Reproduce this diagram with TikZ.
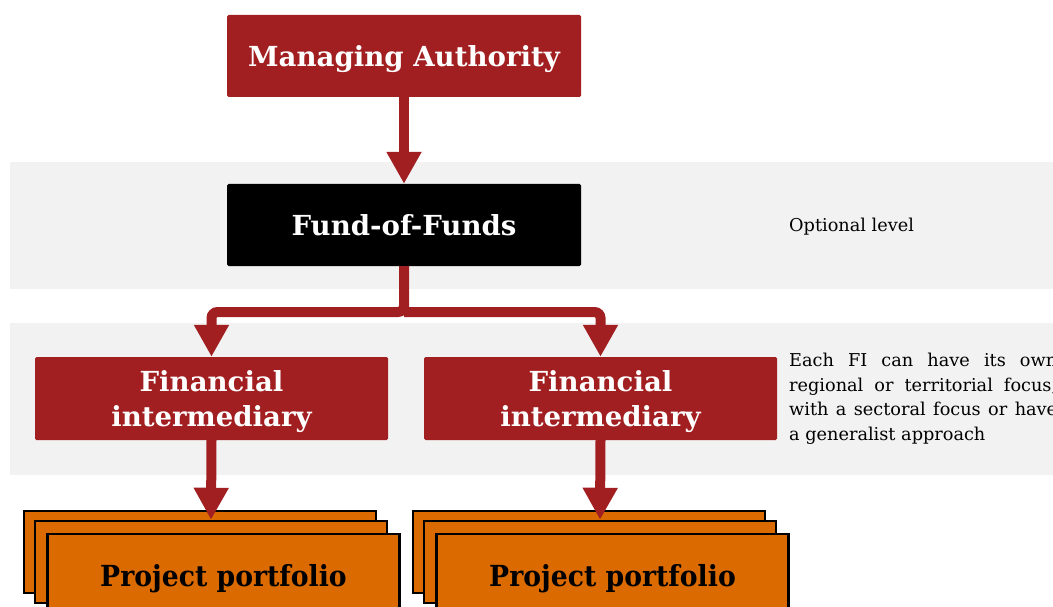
\documentclass[tikz,border=0pt]{standalone}
\usepackage{fontspec}
\setmainfont{DejaVu Serif}
\newfontfamily\narrowserif[FakeStretch=0.92]{DejaVu Serif}
\usetikzlibrary{arrows.meta}

\definecolor{darkred}{HTML}{A21F21}
\definecolor{pumpkin}{HTML}{DB6A00}
\definecolor{lightband}{HTML}{F2F2F2}

\begin{document}
\begin{tikzpicture}[x=1pt, y=-1pt]
    \tikzstyle{red box}=[
        fill = darkred,
        text = white,
        rounded corners = 1.5pt,
        minimum width = 354pt,
        minimum height = 82pt,
        inner sep = 0pt,
        align = center,
        text depth = 0pt,
        font = \fontsize{27.6}{35}\selectfont\bfseries
    ]
    \tikzstyle{black box}=[
        red box,
        fill = black
    ]
    \tikzstyle{project box}=[
        draw = black,
        line width = 2.5pt,
        fill = pumpkin,
        minimum width = 352pt,
        minimum height = 82pt,
        inner sep = 0pt,
        text depth = 0pt,
        font = \narrowserif\fontsize{29}{33}\selectfont\bfseries
    ]
    \tikzstyle{flow}=[
        draw = darkred,
        line width = 10pt,
        -{Triangle[width=33pt, length=32pt]}
    ]
    \tikzstyle{note}=[
        anchor = north west,
        inner sep = 0pt,
        font = \fontsize{17.7}{24.5}\selectfont
    ]

    \useasboundingbox (0, 0) rectangle (1053, 607);
    \clip (0, 0) rectangle (1053, 607);

    % grey bands behind the two lower levels
    \fill[lightband] (10, 162) rectangle (1060, 289);
    \fill[lightband] (10, 323) rectangle (1060, 475);

    \node[red box]   (ma)  at (404, 56)    {Managing Authority};
    \node[black box] (fof) at (404, 225)   {Fund-of-Funds};
    \node[red box, minimum width=353pt, minimum height=83pt] (fi1) at (211.5, 398.5) {Financial\\intermediary};
    \node[red box, minimum width=353pt, minimum height=83pt] (fi2) at (600.5, 398.5) {Financial\\intermediary};

    % stacked portfolios, back to front
    \node[project box] (pa3) at (200, 552) {};
    \node[project box] (pa2) at (211, 562) {};
    \node[project box] (pa1) at (223.5, 575) {Project portfolio};
    \node[project box] (pb3) at (589, 552) {};
    \node[project box] (pb2) at (600, 562) {};
    \node[project box] (pb1) at (612.5, 575) {Project portfolio};

    \coordinate (split) at (404, 312);

    \draw[flow] (ma) -- (fof);
    \draw[flow, rounded corners=6pt] (fof.south) -- (split) -| (fi1.north);
    \draw[flow, rounded corners=6pt] (split) -| (fi2.north);
    \draw[flow] (fi1.south) -- (pa2.north);
    \draw[flow] (fi2.south) -- (pb2.north);

    \node[anchor=west, inner sep=0pt, font=\fontsize{17.7}{20}\selectfont] (opt) at (789, 227) {Optional level};
    \node[note, text width=268pt, align=justify] (fidesc) at (789, 353)
        {Each FI can have its own\linebreak regional or territorial focus,\linebreak with a sectoral focus or have\linebreak a generalist approach};
\end{tikzpicture}
\end{document}
